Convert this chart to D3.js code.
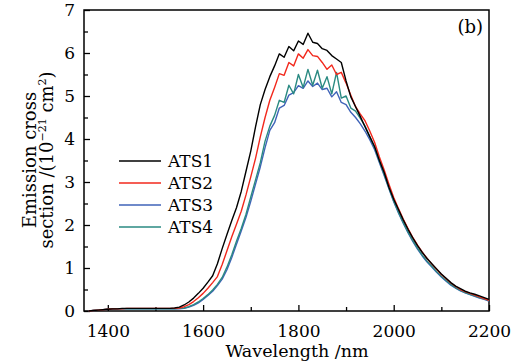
<html>
<head>
    <script src="https://cdn.jsdelivr.net/npm/d3@7"></script>
    <style>
        body { margin: 0; background: #ffffff; }
        text { font-family: "DejaVu Serif", serif; }
    </style>
</head>
<body>
    <svg id="Chart"></svg>
<script>
    // wavelength grid (nm), 10 nm step
    let wavelengths = d3.range(1360, 2201, 10)

    let ats1 = [0.00, 0.01, 0.02, 0.03, 0.04, 0.05, 0.05, 0.06, 0.06, 0.06,
        0.06, 0.06, 0.06, 0.06, 0.06, 0.06, 0.06, 0.06, 0.07, 0.09,
        0.14, 0.21, 0.30, 0.41, 0.53, 0.67, 0.82, 1.10, 1.45, 1.78,
        2.10, 2.40, 2.78, 3.25, 3.72, 4.28, 4.80, 5.15, 5.45, 5.70,
        5.98, 5.90, 6.15, 6.05, 6.28, 6.20, 6.46, 6.25, 6.22, 6.10,
        6.06, 5.94, 5.86, 5.78, 5.35, 4.98, 4.75, 4.52, 4.28, 4.05,
        3.82, 3.50, 3.22, 2.88, 2.60, 2.36, 2.12, 1.90, 1.70, 1.52,
        1.36, 1.22, 1.10, 0.98, 0.86, 0.76, 0.66, 0.58, 0.52, 0.46,
        0.42, 0.39, 0.35, 0.31, 0.27]

    let ats2 = [0.00, 0.01, 0.02, 0.03, 0.04, 0.05, 0.05, 0.05, 0.06, 0.06,
        0.06, 0.06, 0.06, 0.06, 0.06, 0.06, 0.06, 0.06, 0.06, 0.07,
        0.10, 0.15, 0.22, 0.31, 0.41, 0.53, 0.66, 0.80, 1.08, 1.40,
        1.72, 2.02, 2.32, 2.70, 3.12, 3.55, 4.05, 4.50, 4.90, 5.20,
        5.52, 5.48, 5.78, 5.70, 5.98, 5.88, 6.08, 5.94, 5.92, 5.78,
        5.62, 5.72, 5.50, 5.55, 5.30, 5.02, 4.75, 4.58, 4.42, 4.18,
        3.92, 3.58, 3.28, 2.95, 2.64, 2.38, 2.14, 1.92, 1.71, 1.53,
        1.37, 1.22, 1.09, 0.97, 0.85, 0.75, 0.65, 0.57, 0.50, 0.45,
        0.41, 0.37, 0.33, 0.29, 0.25]

    let ats3 = [0.00, 0.01, 0.02, 0.03, 0.04, 0.04, 0.05, 0.05, 0.05, 0.05,
        0.05, 0.05, 0.05, 0.05, 0.05, 0.05, 0.05, 0.05, 0.05, 0.05,
        0.06, 0.09, 0.13, 0.19, 0.27, 0.36, 0.46, 0.59, 0.74, 0.96,
        1.24, 1.55, 1.86, 2.18, 2.55, 2.95, 3.35, 3.80, 4.20, 4.38,
        4.72, 4.78, 5.02, 5.08, 5.24, 5.18, 5.35, 5.22, 5.30, 5.15,
        5.18, 4.98, 5.10, 4.85, 4.80, 4.62, 4.50, 4.35, 4.18, 3.98,
        3.75, 3.45, 3.15, 2.84, 2.54, 2.28, 2.04, 1.82, 1.62, 1.44,
        1.28, 1.14, 1.02, 0.90, 0.79, 0.69, 0.60, 0.53, 0.47, 0.42,
        0.38, 0.34, 0.30, 0.27, 0.23]

    let ats4 = [0.00, 0.01, 0.02, 0.03, 0.04, 0.05, 0.05, 0.05, 0.05, 0.05,
        0.05, 0.05, 0.05, 0.05, 0.05, 0.05, 0.05, 0.05, 0.05, 0.06,
        0.07, 0.10, 0.15, 0.21, 0.29, 0.38, 0.49, 0.62, 0.78, 1.02,
        1.30, 1.62, 1.92, 2.25, 2.65, 3.05, 3.45, 3.95, 4.30, 4.55,
        4.90, 4.85, 5.25, 5.05, 5.50, 5.20, 5.62, 5.25, 5.60, 5.18,
        5.45, 5.05, 5.55, 4.95, 5.00, 4.72, 4.65, 4.48, 4.30, 4.05,
        3.80, 3.48, 3.18, 2.86, 2.56, 2.30, 2.06, 1.84, 1.64, 1.46,
        1.30, 1.16, 1.04, 0.92, 0.81, 0.71, 0.62, 0.54, 0.48, 0.43,
        0.39, 0.35, 0.31, 0.28, 0.24]

    let seriesNames = ["ATS1", "ATS2", "ATS3", "ATS4"]
    let seriesColors = ["#000000", "#f2281c", "#3f63b8", "#2a8a82"]
    let seriesValues = [ats1, ats2, ats3, ats4]

    let xTicks = [1400, 1600, 1800, 2000, 2200]
    let xMinorTicks = [1500, 1700, 1900, 2100]
    let yTicks = [0, 1, 2, 3, 4, 5, 6, 7]
    let yMinorTicks = [0.5, 1.5, 2.5, 3.5, 4.5, 5.5, 6.5]

    function getConfig() {
        let width = 517
        let height = 362
        let margin = { top: 10, bottom: 51, left: 84, right: 28 }
        let bodyWidth = width - margin.left - margin.right
        let bodyHeight = height - margin.top - margin.bottom
        let container = d3.select("#Chart")
            .attr("width", width)
            .attr("height", height)
        return { width, height, margin, bodyWidth, bodyHeight, container }
    }

    function getScales(config) {
        let xScale = d3.scaleLinear()
            .domain([1350, 2200])
            .range([0, config.bodyWidth])
        let yScale = d3.scaleLinear()
            .domain([0, 7])
            .range([config.bodyHeight, 0])
        return { xScale, yScale }
    }

    function drawAxes(scales, config) {
        let { xScale, yScale } = scales
        let { container, margin, bodyHeight, bodyWidth } = config

        let body = container.append("g")
            .attr("transform", `translate(${margin.left},${margin.top})`)

        // minor ticks (inward)
        body.append("g")
            .attr("transform", `translate(0,${bodyHeight})`)
            .call(d3.axisBottom(xScale).tickValues(xMinorTicks).tickSize(-4).tickFormat(""))
        body.append("g")
            .call(d3.axisLeft(yScale).tickValues(yMinorTicks).tickSize(-4).tickFormat(""))

        // major ticks with labels
        body.append("g")
            .attr("transform", `translate(0,${bodyHeight})`)
            .call(d3.axisBottom(xScale).tickValues(xTicks).tickFormat(d3.format("d"))
                .tickSizeInner(-6).tickSizeOuter(0).tickPadding(14))
        body.append("g")
            .call(d3.axisLeft(yScale).tickValues(yTicks).tickFormat(d3.format("d"))
                .tickSizeInner(-6).tickSizeOuter(0).tickPadding(9))

        body.selectAll(".domain").remove()
        body.selectAll(".tick line").attr("stroke", "#000").attr("stroke-width", 1.3)
        body.selectAll(".tick text")
            .attr("fill", "#000")
            .style("font-size", "17px")

        // frame
        body.append("rect")
            .attr("width", bodyWidth)
            .attr("height", bodyHeight)
            .attr("fill", "none")
            .attr("stroke", "#000")
            .attr("stroke-width", 1.5)

        return body
    }

    function drawLines(body, scales) {
        let { xScale, yScale } = scales
        let line = d3.line()
            .x((d, i) => xScale(wavelengths[i]))
            .y(d => yScale(d))

        let order = [2, 3, 1, 0]
        order.forEach(k => {
            body.append("path")
                .datum(seriesValues[k])
                .attr("d", line)
                .attr("fill", "none")
                .attr("stroke", seriesColors[k])
                .attr("stroke-width", 1.4)
                .attr("stroke-linejoin", "round")
        })
    }

    function drawLegend(config) {
        let legend = config.container.append("g")
        seriesNames.forEach((name, i) => {
            let y = 161 + i * 22
            legend.append("line")
                .attr("x1", 119).attr("x2", 161)
                .attr("y1", y).attr("y2", y)
                .attr("stroke", seriesColors[i])
                .attr("stroke-width", 1.4)
            legend.append("text")
                .attr("x", 168).attr("y", y + 6)
                .style("font-size", "17px")
                .text(name)
        })
    }

    function drawLabels(config) {
        let { container } = config
        container.append("text")
            .attr("x", 297).attr("y", 357)
            .attr("text-anchor", "middle")
            .style("font-size", "17.5px")
            .text("Wavelength /nm")

        let yTitle = container.append("text")
            .attr("transform", "translate(0,160) rotate(-90)")
            .attr("text-anchor", "middle")
            .style("font-size", "18px")
        yTitle.append("tspan").attr("x", 0).attr("y", 36).text("Emission cross")
        let second = yTitle.append("tspan").attr("x", 0).attr("y", 53)
        second.append("tspan").text("section /(10")
        second.append("tspan").attr("dy", -7).style("font-size", "11px").text("\u221221")
        second.append("tspan").attr("dy", 7).text(" cm")
        second.append("tspan").attr("dy", -7).style("font-size", "11px").text("2")
        second.append("tspan").attr("dy", 7).text(")")

        container.append("text")
            .attr("x", 483).attr("y", 33)
            .attr("text-anchor", "end")
            .style("font-size", "18px")
            .text("(b)")
    }

    let config = getConfig()
    let scales = getScales(config)
    let body = drawAxes(scales, config)
    drawLines(body, scales)
    drawLegend(config)
    drawLabels(config)
</script>
</body>
</html>
